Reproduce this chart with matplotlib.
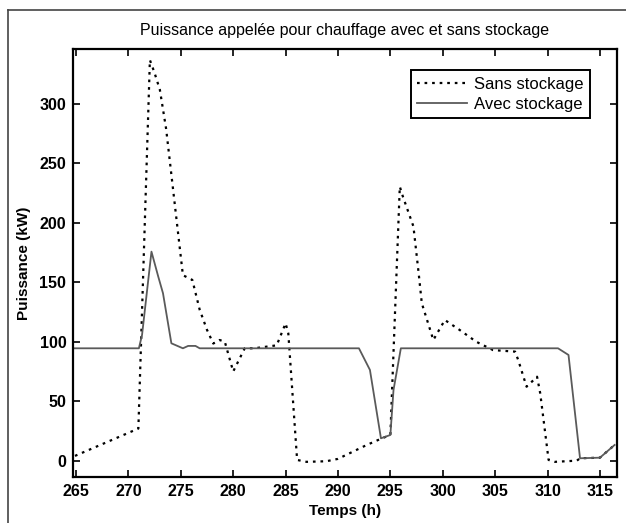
import matplotlib
matplotlib.use("Agg")
import matplotlib.pyplot as plt
from matplotlib.lines import Line2D

# Data
t_sans = [264.9, 270.95, 272.05, 272.5, 273.0, 273.6, 275.2, 276.1, 276.8, 277.5, 278.1, 278.7,
          279.2, 280.0, 281.1, 282.0, 284.15, 285.0, 285.26, 286.1, 287.0, 288.9, 290.0,
          292.7, 294.2, 295.0, 295.9, 296.2, 297.2, 297.7, 298.0, 299.1, 300.2, 301.6, 303.2,
          304.8, 306.9, 307.2, 308.0, 309.0, 309.3, 310.1, 310.7, 312.8, 313.1, 315.0, 316.4]
p_sans = [4.0, 27.0, 337.0, 326.0, 312.0, 279.0, 156.0, 152.0, 127.0, 110.0, 98.5, 101.5,
          100.0, 75.0, 94.5, 94.5, 97.0, 115.5, 107.0, 0.6, -1.0, -0.5, 1.5,
          13.0, 18.8, 21.6, 230.5, 222.0, 197.0, 157.6, 132.4, 101.5, 118.3, 110.0, 100.0,
          93.0, 91.7, 84.7, 62.2, 70.6, 56.7, 0.6, -1.0, 0.0, 2.0, 2.5, 13.2]

t_avec = [264.7, 271.0, 271.3, 272.2, 272.85, 273.3, 274.1, 275.2, 275.7, 276.4, 276.8,
          292.0, 293.05, 294.1, 295.0, 295.3, 296.0, 311.0, 312.0, 313.1, 315.0, 316.4]
p_avec = [94.5, 94.5, 105.7, 175.8, 154.7, 140.8, 98.7, 94.5, 96.5, 96.5, 94.5,
          94.5, 76.3, 18.8, 21.6, 59.5, 94.5, 94.5, 88.9, 2.0, 2.5, 13.2]

x_ticks = [265, 270, 275, 280, 285, 290, 295, 300, 305, 310, 315]
y_ticks = [0, 50, 100, 150, 200, 250, 300]

plt.rcParams['font.family'] = ['Liberation Sans', 'DejaVu Sans']

fig = plt.figure(figsize=(6.26, 5.23), dpi=100)
ax = fig.add_axes([73.3 / 626, 1 - 476.7 / 523, (616.7 - 73.3) / 626, (476.7 - 49.3) / 523])

ax.plot(t_sans, p_sans, color='black', linestyle=(0, (1.2, 2.2)), linewidth=1.6,
        label='Sans stockage')
ax.plot(t_avec, p_avec, color='#5a5a5a', linestyle='-', linewidth=1.3,
        label='Avec stockage')

ax.set_xlim(264.74, 316.6)
ax.set_ylim(-13.5, 346)
ax.set_xticks(x_ticks)
ax.set_yticks(y_ticks)
ax.tick_params(direction='in', top=True, right=True, length=5, width=1.2,
               labelsize=11.5, pad=5)
for lab in ax.get_xticklabels() + ax.get_yticklabels():
    lab.set_fontweight('bold')
for s in ax.spines.values():
    s.set_linewidth(1.6)

ax.set_title('Puissance appelée pour chauffage avec et sans stockage', fontsize=11.5, pad=10)
ax.set_xlabel('Temps (h)', fontsize=11, fontweight='bold', labelpad=4)
ax.set_ylabel('Puissance (kW)', fontsize=11, fontweight='bold', labelpad=6)

leg = ax.legend(loc='upper right', bbox_to_anchor=(0.951, 0.9516), borderaxespad=0,
                fontsize=12, fancybox=False, edgecolor='black', framealpha=1,
                handlelength=3.0, borderpad=0.4, labelspacing=0.3, handletextpad=0.4)
leg.get_frame().set_linewidth(1.4)

fig.add_artist(Line2D([8 / 626, 8 / 626], [0, 1 - 10 / 523], transform=fig.transFigure,
                      color='#444444', linewidth=1.2))
fig.add_artist(Line2D([8 / 626, 1], [1 - 10 / 523, 1 - 10 / 523], transform=fig.transFigure,
                      color='#444444', linewidth=1.2))

fig.savefig('out.png', dpi=100)
